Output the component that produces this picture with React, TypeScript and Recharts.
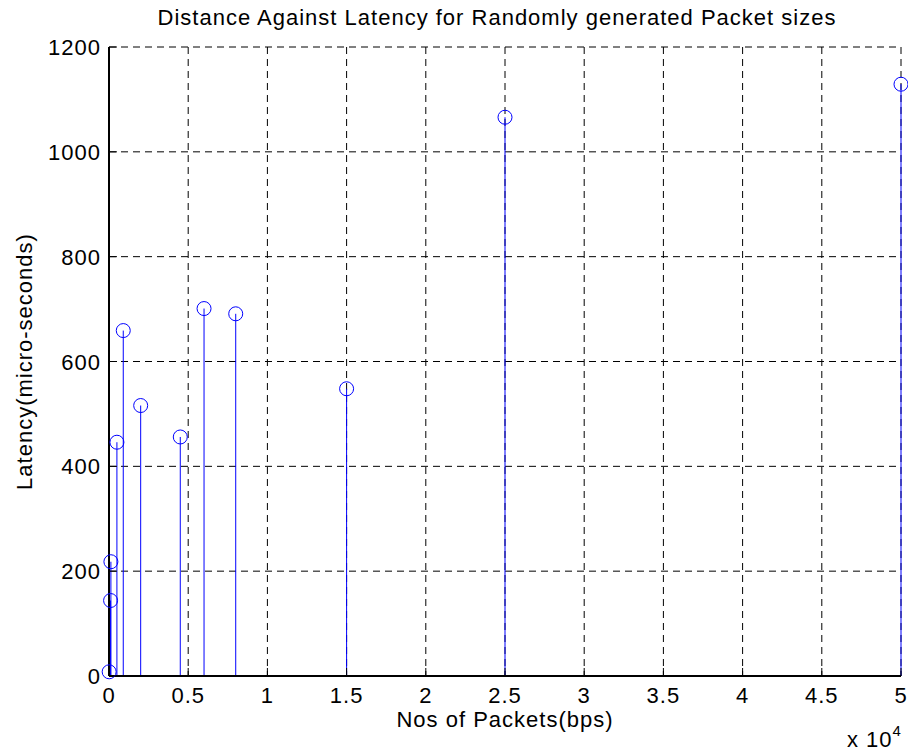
import {
  ComposedChart,
  Scatter,
  XAxis,
  YAxis,
  CartesianGrid,
  ErrorBar,
} from "recharts";

// packets (x 10^4) and measured latency (micro-seconds)
const packets = [0.001, 0.01, 0.012, 0.05, 0.09, 0.2, 0.45, 0.6, 0.8, 1.5, 2.5, 5];
const latency = [8, 144, 218, 446, 659, 516, 456, 701, 691, 548, 1066, 1129];
const xTicks = [0, 0.5, 1, 1.5, 2, 2.5, 3, 3.5, 4, 4.5, 5];
const yTicks = [0, 200, 400, 600, 800, 1000, 1200];

const BLUE = "#0000ff";
const FONT = "'Liberation Sans', Arial, Helvetica, sans-serif";
const FS = 22;
const LS = 1;

// stem = error bar running from the value down to zero
const data = packets.map((x, i) => ({ x, y: latency[i], stem: [latency[i], 0] }));

const W = 908;
const H = 752;

// ticks point inward, MATLAB style
function BottomTick({ x, y, payload }: any) {
  return (
    <g>
      <line x1={x} x2={x} y1={y} y2={y - 8} stroke="#000" strokeWidth={1} />
      <text
        x={x}
        y={y + 27}
        textAnchor="middle"
        fontSize={FS}
        fontFamily={FONT}
        letterSpacing={LS}
        fill="#000"
      >
        {String(payload.value)}
      </text>
    </g>
  );
}

function TopTick({ x, y }: any) {
  return <line x1={x} x2={x} y1={y} y2={y + 8} stroke="#000" strokeWidth={1} />;
}

function LeftTick({ x, y, payload }: any) {
  return (
    <g>
      <line x1={x} x2={x + 8} y1={y} y2={y} stroke="#000" strokeWidth={1} />
      <text
        x={x - 8}
        y={y + 8}
        textAnchor="end"
        fontSize={FS}
        fontFamily={FONT}
        letterSpacing={LS}
        fill="#000"
      >
        {payload.value}
      </text>
    </g>
  );
}

function RightTick({ x, y }: any) {
  return <line x1={x} x2={x - 8} y1={y} y2={y} stroke="#000" strokeWidth={1} />;
}

function StemHead({ cx, cy }: any) {
  return <circle cx={cx} cy={cy} r={7} fill="none" stroke={BLUE} strokeWidth={1} />;
}

function YLabel({ viewBox }: any) {
  const cy = viewBox.y + viewBox.height / 2;
  const cx = 24;
  return (
    <text
      x={cx}
      y={cy}
      transform={`rotate(-90 ${cx} ${cy})`}
      textAnchor="middle"
      dominantBaseline="central"
      fontSize={FS}
      fontFamily={FONT}
      letterSpacing={LS}
      fill="#000"
    >
      Latency(micro-seconds)
    </text>
  );
}

function XLabel({ viewBox }: any) {
  const cx = viewBox.x + viewBox.width / 2;
  return (
    <text
      x={cx}
      y={viewBox.y + viewBox.height + 21}
      textAnchor="middle"
      fontSize={FS}
      fontFamily={FONT}
      letterSpacing={LS}
      fill="#000"
    >
      Nos of Packets(bps)
    </text>
  );
}

export default function App() {
  return (
    <div
      style={{
        position: "absolute",
        left: 0,
        top: 0,
        width: W,
        height: H,
        background: "#fff",
        fontFamily: FONT,
      }}
    >
      <div
        style={{
          position: "absolute",
          left: 0,
          width: 994,
          top: 5,
          textAlign: "center",
          fontSize: FS,
          letterSpacing: 1,
          color: "#000",
        }}
      >
        Distance Against Latency for Randomly generated Packet sizes
      </div>
      <ComposedChart
        width={W}
        height={H}
        data={data}
        margin={{ top: 47, right: 7, bottom: 46, left: 49 }}
      >
        <CartesianGrid
          xAxisId="b"
          yAxisId="l"
          stroke="#000"
          strokeDasharray="7 5"
          strokeWidth={1}
        />
        <XAxis
          xAxisId="b"
          type="number"
          dataKey="x"
          domain={[0, 5]}
          ticks={xTicks}
          interval={0}
          height={30}
          tickSize={0}
          tickMargin={0}
          tickLine={false}
          tick={<BottomTick />}
          axisLine={{ stroke: "#000", strokeWidth: 2 }}
          label={<XLabel />}
        />
        <XAxis
          xAxisId="t"
          orientation="top"
          type="number"
          dataKey="x"
          domain={[0, 5]}
          ticks={xTicks}
          interval={0}
          height={0}
          tickSize={0}
          tickMargin={0}
          tickLine={false}
          tick={<TopTick />}
          axisLine={{ stroke: "#000", strokeWidth: 2 }}
        />
        <YAxis
          yAxisId="l"
          type="number"
          domain={[0, 1200]}
          ticks={yTicks}
          interval={0}
          width={60}
          tickSize={0}
          tickMargin={0}
          tickLine={false}
          tick={<LeftTick />}
          axisLine={{ stroke: "#000", strokeWidth: 2 }}
          label={<YLabel />}
        />
        <YAxis
          yAxisId="r"
          orientation="right"
          type="number"
          domain={[0, 1200]}
          ticks={yTicks}
          interval={0}
          width={0}
          tickSize={0}
          tickMargin={0}
          tickLine={false}
          tick={<RightTick />}
          axisLine={{ stroke: "#000", strokeWidth: 2 }}
        />
        <Scatter
          xAxisId="b"
          yAxisId="l"
          dataKey="y"
          shape={<StemHead />}
          isAnimationActive={false}
        >
          <ErrorBar
            dataKey="stem"
            direction="y"
            width={0}
            stroke={BLUE}
            strokeWidth={1}
            isAnimationActive={false}
          />
        </Scatter>
      </ComposedChart>
      <div
        style={{
          position: "absolute",
          left: 847,
          top: 727,
          fontSize: FS,
          letterSpacing: 1,
          color: "#000",
        }}
      >
        x 10
        <span style={{ position: "relative", top: -11, fontSize: 15 }}>4</span>
      </div>
    </div>
  );
}
